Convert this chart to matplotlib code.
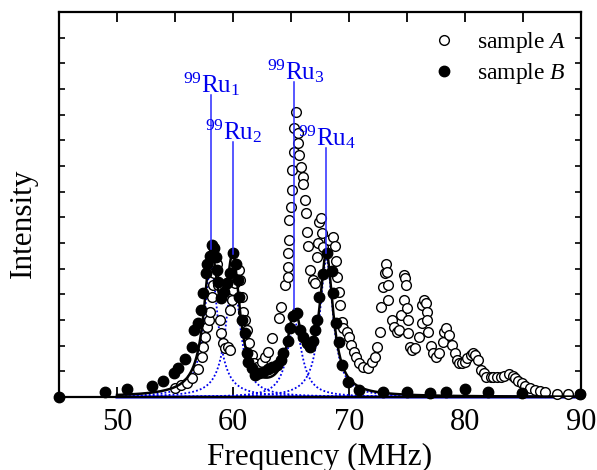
import numpy as np
import matplotlib
matplotlib.use("Agg")
import matplotlib.pyplot as plt
from matplotlib.ticker import MultipleLocator, NullFormatter

plt.rcParams['font.family'] = ['Liberation Serif', 'DejaVu Serif']
plt.rcParams['mathtext.fontset'] = 'custom'
plt.rcParams['mathtext.rm'] = 'Liberation Serif'
plt.rcParams['mathtext.it'] = 'Liberation Serif:italic'

# ---------------- data ----------------
freq_B = [45.0, 49.0, 50.9, 53.0, 54.0, 54.9, 55.3, 55.9, 56.5, 56.6, 57.0, 57.2, 57.4, 57.7,
          57.8, 58.0, 58.2, 58.4, 58.5, 58.6, 58.7, 59.0, 59.2, 59.5, 59.7, 60.0, 60.3, 60.4,
          60.5, 60.8, 61.0, 61.2, 61.3, 61.6, 61.9, 62.2, 62.6, 63.0, 63.4, 63.8, 64.1, 64.3,
          64.7, 64.9, 65.2, 65.5, 65.8, 66.0, 66.4, 66.6, 66.9, 67.1, 67.2, 67.4, 67.8, 68.1,
          68.5, 68.6, 68.9, 69.1, 69.4, 69.9, 70.9, 72.9, 75.0, 77.0, 78.4, 80.0, 82.0, 84.9, 89.9]
int_B = [0.0, 0.2, 0.3, 0.43, 0.62, 0.93, 1.13, 1.48, 1.96, 2.6, 2.9, 3.4, 4.05, 4.83,
         5.2, 5.5, 5.92, 5.8, 5.46, 4.95, 4.48, 3.85, 4.1, 4.44, 4.83, 5.6, 5.2, 4.56,
         3.9, 3.0, 2.5, 1.7, 1.36, 1.13, 0.86, 0.93, 0.98, 1.09, 1.17, 1.25, 1.44, 1.7,
         2.2, 2.7, 3.15, 3.28, 2.6, 2.35, 2.1, 1.96, 2.2, 2.6, 3.0, 3.9, 4.8, 5.6,
         4.9, 4.05, 2.88, 2.15, 1.25, 0.58, 0.27, 0.2, 0.2, 0.17, 0.2, 0.3, 0.2, 0.17, 0.1]

freq_A = [55.0, 55.5, 56.0, 56.5, 57.0, 57.3, 57.4, 57.6, 57.8, 57.9, 58.0, 58.2, 58.3, 58.4,
          58.6, 58.7, 58.9, 59.0, 59.1, 59.3, 59.6, 59.7, 59.7, 59.9, 60.0, 60.2, 60.3, 60.5,
          60.6, 60.8, 60.9, 61.0, 61.2, 61.4, 61.6, 61.8, 62.1, 62.5, 62.8, 63.0, 63.4, 64.0,
          64.1, 64.5, 64.7, 64.7, 64.7, 64.8, 64.8, 65.0, 65.1, 65.1, 65.3, 65.3, 65.4, 65.6,
          65.6, 65.7, 65.9, 66.0, 66.0, 66.2, 66.3, 66.4, 66.5, 66.6, 66.9, 67.1, 67.2, 67.3,
          67.4, 67.6, 67.7, 67.8, 68.3, 68.6, 68.8, 68.9, 69.0, 69.1, 69.2, 69.4, 69.5, 69.8,
          70.0, 70.2, 70.4, 70.6, 70.9, 71.2, 71.6, 72.0, 72.2, 72.4, 72.7, 72.8, 72.9, 73.1,
          73.2, 73.3, 73.4, 73.4, 73.7, 73.9, 74.1, 74.3, 74.5, 74.7, 74.7, 74.8, 74.9, 75.0,
          75.1, 75.1, 75.3, 75.4, 75.7, 76.0, 76.3, 76.3, 76.5, 76.6, 76.7, 76.7, 76.8, 77.1,
          77.2, 77.5, 77.8, 78.1, 78.2, 78.4, 78.6, 78.9, 79.1, 79.3, 79.5, 79.7, 80.0, 80.2,
          80.5, 80.7, 80.9, 81.1, 81.4, 81.6, 81.8, 82.2, 82.4, 82.8, 83.1, 83.4, 83.8, 84.1,
          84.3, 84.6, 84.9, 85.2, 85.6, 86.0, 86.5, 86.9, 87.9, 88.9, 89.9]
int_A = [0.35, 0.45, 0.55, 0.75, 1.1, 1.56, 1.95, 2.34, 2.73, 3.0, 3.3, 3.9, 4.36, 4.83,
         5.2, 4.36, 3.0, 2.5, 2.1, 1.9, 1.95, 1.83, 3.4, 3.78, 4.17, 4.44, 4.67, 4.95,
         4.56, 3.9, 3.3, 3.0, 2.6, 2.1, 1.64, 1.33, 1.17, 1.36, 1.56, 1.75, 2.3, 3.08,
         3.5, 4.36, 4.67, 5.06, 5.6, 6.1, 6.9, 7.4, 8.06, 8.84, 9.55, 10.5, 11.1, 10.3,
         9.9, 9.43, 8.96, 8.57, 8.3, 7.67, 7.17, 6.43, 5.9, 4.95, 4.56, 4.44, 5.45, 6.0,
         6.8, 6.97, 6.4, 5.84, 6.1, 6.23, 5.9, 5.3, 4.67, 4.1, 3.6, 2.92, 2.7, 2.53,
         2.34, 2.03, 1.75, 1.56, 1.32, 1.17, 1.13, 1.36, 1.56, 1.95, 2.53, 3.5, 4.28, 4.83,
         5.2, 4.87, 4.36, 3.78, 3.0, 2.73, 2.53, 2.6, 3.2, 3.78, 4.75, 4.63, 4.36, 3.47,
         3.0, 2.49, 1.95, 1.83, 1.9, 2.34, 2.88, 3.58, 3.78, 3.66, 3.3, 3.0, 2.53, 1.99,
         1.71, 1.56, 1.71, 2.14, 2.53, 2.7, 2.4, 2.03, 1.71, 1.44, 1.32, 1.32, 1.36, 1.52,
         1.64, 1.71, 1.64, 1.44, 1.05, 0.93, 0.78, 0.78, 0.78, 0.78, 0.78, 0.82, 0.9, 0.82,
         0.74, 0.62, 0.55, 0.43, 0.35, 0.27, 0.23, 0.2, 0.12, 0.12, 0.1]

# Lorentzian fit components (99Ru1..4)
peak_names = ['1', '2', '3', '4']
peak_centers = [58.1, 60.0, 65.3, 68.05]
peak_amps = [5.1, 4.85, 2.95, 5.35]
peak_hwhm = [0.72, 0.72, 0.75, 0.7]
label_tops = [11.76, 9.93, 12.27, 9.7]

fit_range = (50.0, 90.0)

# ---------------- figure ----------------
fig = plt.figure(figsize=(5.97, 4.70), dpi=100)
ax = fig.add_axes([59/597, 73/470, (581-59)/597, (397-12)/470])

xf = np.linspace(fit_range[0], fit_range[1], 2000)
comps = [a * g**2 / ((xf - c)**2 + g**2) for c, a, g in zip(peak_centers, peak_amps, peak_hwhm)]
total = np.sum(comps, axis=0)

blue = '#0000ee'
for comp in comps:
    ax.plot(xf, comp, color=blue, ls=(0, (1, 1.2)), lw=1.3, zorder=2)
ax.plot(xf, np.zeros_like(xf), color=blue, lw=2.2, zorder=2, clip_on=False)

ax.plot(freq_A, int_A, 'o', mfc='white', mec='black', mew=1.0, ms=7, zorder=3,
        label=r'sample $\mathit{A}$', clip_on=False)
ax.plot(xf, total, color='black', lw=1.8, zorder=4)
ax.plot(freq_B, int_B, 'o', mfc='black', mec='black', ms=7.5, zorder=5,
        label=r'sample $\mathit{B}$', clip_on=False)

# vertical marker lines and labels
for name, c, top in zip(peak_names, peak_centers, label_tops):
    idx = np.argmin(np.abs(xf - c))
    ax.plot([c, c], [total[idx], top], color='#2a2aff', lw=1.1, zorder=6)
    ax.text(c + 0.1, top + 0.12, r'$^{99}$Ru$_{%s}$' % name, color=blue,
            fontsize=18, ha='center', va='baseline', zorder=7)

ax.set_xlim(45, 90)
ax.set_ylim(0, 15)
ax.xaxis.set_minor_locator(MultipleLocator(5))
ax.set_xticks([50, 60, 70, 80, 90])
ax.yaxis.set_major_locator(MultipleLocator(1))
ax.yaxis.set_major_formatter(NullFormatter())
ax.tick_params(axis='x', which='major', direction='in', top=True, bottom=True,
               length=7, width=1.3, labelsize=22, pad=8)
ax.tick_params(axis='x', which='minor', direction='in', top=True, bottom=False,
               length=7, width=1.3)
ax.tick_params(axis='y', which='major', direction='in', left=True, right=True,
               length=4, width=1.2)
for sp in ax.spines.values():
    sp.set_linewidth(1.6)

ax.set_xlabel('Frequency (MHz)', fontsize=22.5)
ax.xaxis.set_label_coords(0.5, -0.118)
ax.set_ylabel('Intensity', fontsize=22.5)
ax.yaxis.set_label_coords(-0.04, 0.45)

leg = ax.legend(loc='upper right', frameon=False, fontsize=17, handletextpad=0.9,
                borderaxespad=0.2, labelspacing=0.25, handlelength=1.0,
                bbox_to_anchor=(1.0, 0.99))

fig.savefig('out.png', dpi=100)
